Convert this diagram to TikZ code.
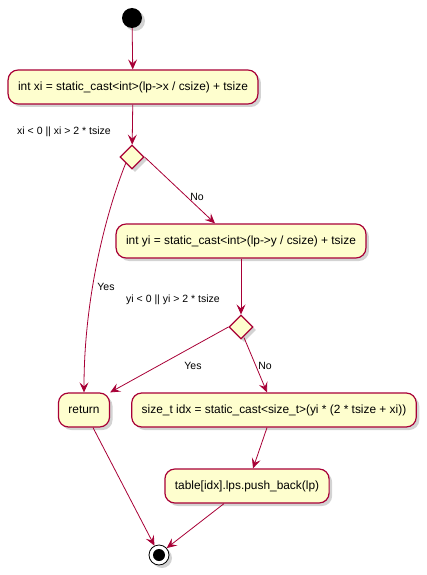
\documentclass[tikz,border=0pt]{standalone}
\usepackage{fontspec}
\setmainfont{Liberation Sans}
\usepackage{tikz}
\usetikzlibrary{arrows.meta,shapes.geometric,shadows,calc}

\definecolor{umlred}{HTML}{A80036}
\definecolor{umlfill}{HTML}{FEFECE}

\tikzset{
  actbox/.style={draw=umlred, fill=umlfill, line width=1.2pt, rounded corners=10pt,
    minimum height=34pt, inner xsep=10pt, font=\fontsize{11.9}{14}\selectfont,
    drop shadow={shadow xshift=3pt, shadow yshift=-3pt, opacity=0.35}},
  choice/.style={diamond, draw=umlred, fill=umlfill, line width=1.2pt, inner sep=0pt,
    minimum width=24pt, minimum height=24pt,
    drop shadow={shadow xshift=3pt, shadow yshift=-3pt, opacity=0.35}},
  flow/.style={draw=umlred, line width=0.8pt, -{Stealth[length=10pt, width=9pt, inset=4pt]}},
  note/.style={font=\fontsize{10.5}{12}\selectfont, inner sep=0pt}
}

\begin{document}
\begin{tikzpicture}[x=1pt, y=-1pt]
      \useasboundingbox (0,0) rectangle (427,575);

      % start and end
      \node[circle, fill=black, minimum size=20pt, inner sep=0pt,
        drop shadow={shadow xshift=3pt, shadow yshift=-3pt, opacity=0.35}] (start) at (132,18) {};
      \node[circle, draw=black, fill=white, line width=0.8pt, minimum size=20pt, inner sep=0pt,
        drop shadow={shadow xshift=3pt, shadow yshift=-3pt, opacity=0.35}] (end) at (159,555) {};
      \fill (end) circle (6pt);

      % actions
      \node[actbox] (xi) at (133,87) {int xi = static\_cast<int>(lp->x / csize) + tsize};
      \node[actbox] (yi) at (241,241) {int yi = static\_cast<int>(lp->y / csize) + tsize};
      \node[actbox] (ret) at (84,410) {return};
      \node[actbox] (idx) at (274,410) {size\_t idx = static\_cast<size\_t>(yi * (2 * tsize + xi))};
      \node[actbox] (push) at (247,486) {table[idx].lps.push\_back(lp)};

      % choices
      \node[choice] (cx) at (132,157) {};
      \node[choice] (cy) at (241,327) {};
      \node[note] (cxtext) at (64,132) {xi < 0 || xi > 2 * tsize};
      \node[note] (cytext) at (173,300) {yi < 0 || yi > 2 * tsize};

      % flows
      \draw[flow] (start) -- (xi);
      \draw[flow] (xi) -- (cx);
      \draw[flow] (cx.east) -- ($(yi.north)+(-26,0)$);
      \node[note] (nox) at (197,197) {No};
      \draw[flow] (cx.south west) .. controls (105,215) and (84,300) .. (ret.north);
      \node[note] (yesx) at (106,287) {Yes};
      \draw[flow] (yi) -- (cy);
      \draw[flow] (cy.west) -- (ret.north east);
      \node[note] (yesy) at (193,366) {Yes};
      \draw[flow] ($(cy.south)+(3,-2)$) -- ($(idx.north)+(-7,0)$);
      \node[note] (noy) at (265,366) {No};
      \draw[flow] ($(idx.south)+(-7,0)$) -- ($(push.north)+(6,0)$);
      \draw[flow] ($(ret.south)+(9,0)$) -- (end.116);
      \draw[flow] ($(push.south)+(-23,0)$) -- (end.42);

    \end{tikzpicture}
\end{document}
